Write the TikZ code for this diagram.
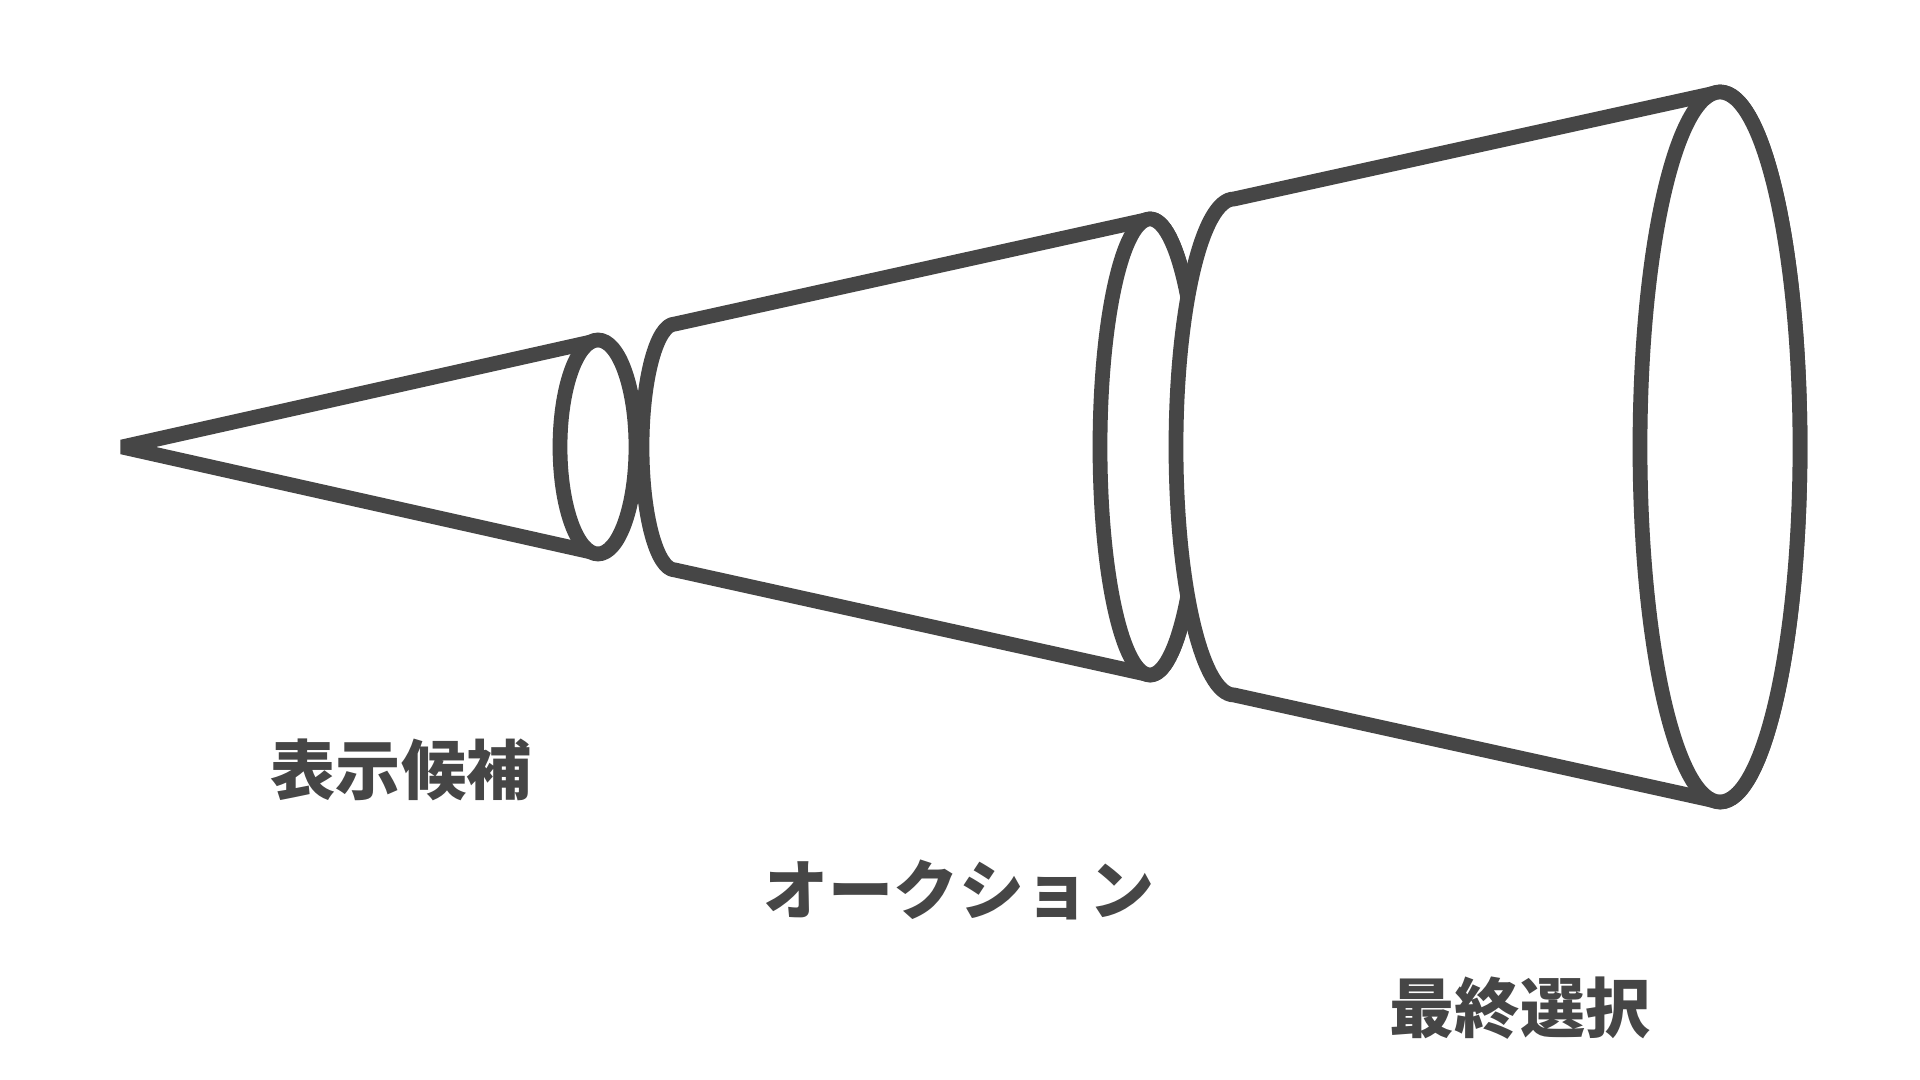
\documentclass[tikz,border=0pt]{standalone}
\usepackage{fontspec}
\newfontfamily\jpfont{Noto Sans CJK JP}
\definecolor{conegray}{HTML}{464646}

\begin{document}
\begin{tikzpicture}[x=0.01cm,y=0.01cm,
    cone/.style={draw=conegray,line width=4.2pt,fill=white,line join=round},
    stage/.style={text=conegray,font=\jpfont\bfseries\fontsize{18.5pt}{22pt}\selectfont}]
  \useasboundingbox (0,0) rectangle (1920,1080);
  % first cone
  \draw[cone,line join=bevel] (600,740) -- (122,633) -- (600,526);
  \draw[cone] (598,633) ellipse [x radius=38,y radius=107];
  % second cone
  \draw[cone] (675,756) -- (1150,861) arc[start angle=90,end angle=-90,x radius=50,y radius=228]
    -- (675,510) arc[start angle=270,end angle=90,x radius=33,y radius=123] -- cycle;
  \draw[cone] (1150,633) ellipse [x radius=50,y radius=228];
  % third cone
  \draw[cone] (1234,881) -- (1720,988) arc[start angle=90,end angle=-90,x radius=80,y radius=355]
    -- (1234,385) arc[start angle=270,end angle=90,x radius=58,y radius=248] -- cycle;
  \draw[cone] (1720,633) ellipse [x radius=80,y radius=355];
  \node[stage] (shown) at (401,310) {表示候補};
  \node[stage] (auction) at (959,190) {オークション};
  \node[stage] (final) at (1520,72) {最終選択};
\end{tikzpicture}
\end{document}
